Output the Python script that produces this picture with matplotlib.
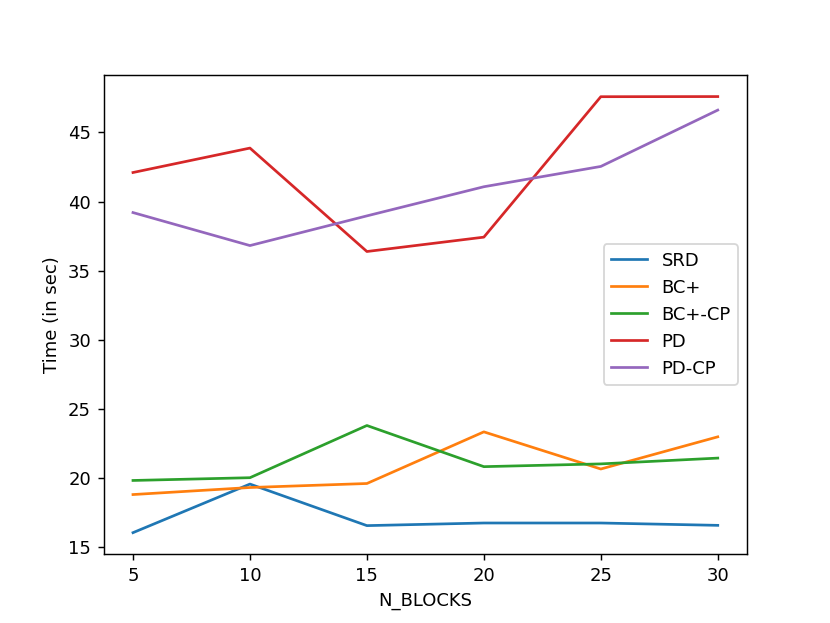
import matplotlib
matplotlib.use('Agg')
import matplotlib.pyplot as plt

n_blocks = [5, 10, 15, 20, 25, 30]
srd = [16.02, 19.54, 16.53, 16.72, 16.72, 16.55]
bc_plus = [18.78, 19.29, 19.58, 23.32, 20.63, 22.96]
bc_plus_cp = [19.8, 20.0, 23.78, 20.8, 21.0, 21.42]
pd_ = [42.1, 43.87, 36.38, 37.42, 47.59, 47.6]
pd_cp = [39.2, 36.81, 38.96, 41.07, 42.54, 46.62]

fig, ax = plt.subplots(figsize=(830/130, 623/130), dpi=130)
ax.plot(n_blocks, srd, label='SRD')
ax.plot(n_blocks, bc_plus, label='BC+')
ax.plot(n_blocks, bc_plus_cp, label='BC+-CP')
ax.plot(n_blocks, pd_, label='PD')
ax.plot(n_blocks, pd_cp, label='PD-CP')
ax.set_xlabel('N_BLOCKS')
ax.set_ylabel('Time (in sec)')
ax.legend()
fig.savefig('out.png', dpi=130)
